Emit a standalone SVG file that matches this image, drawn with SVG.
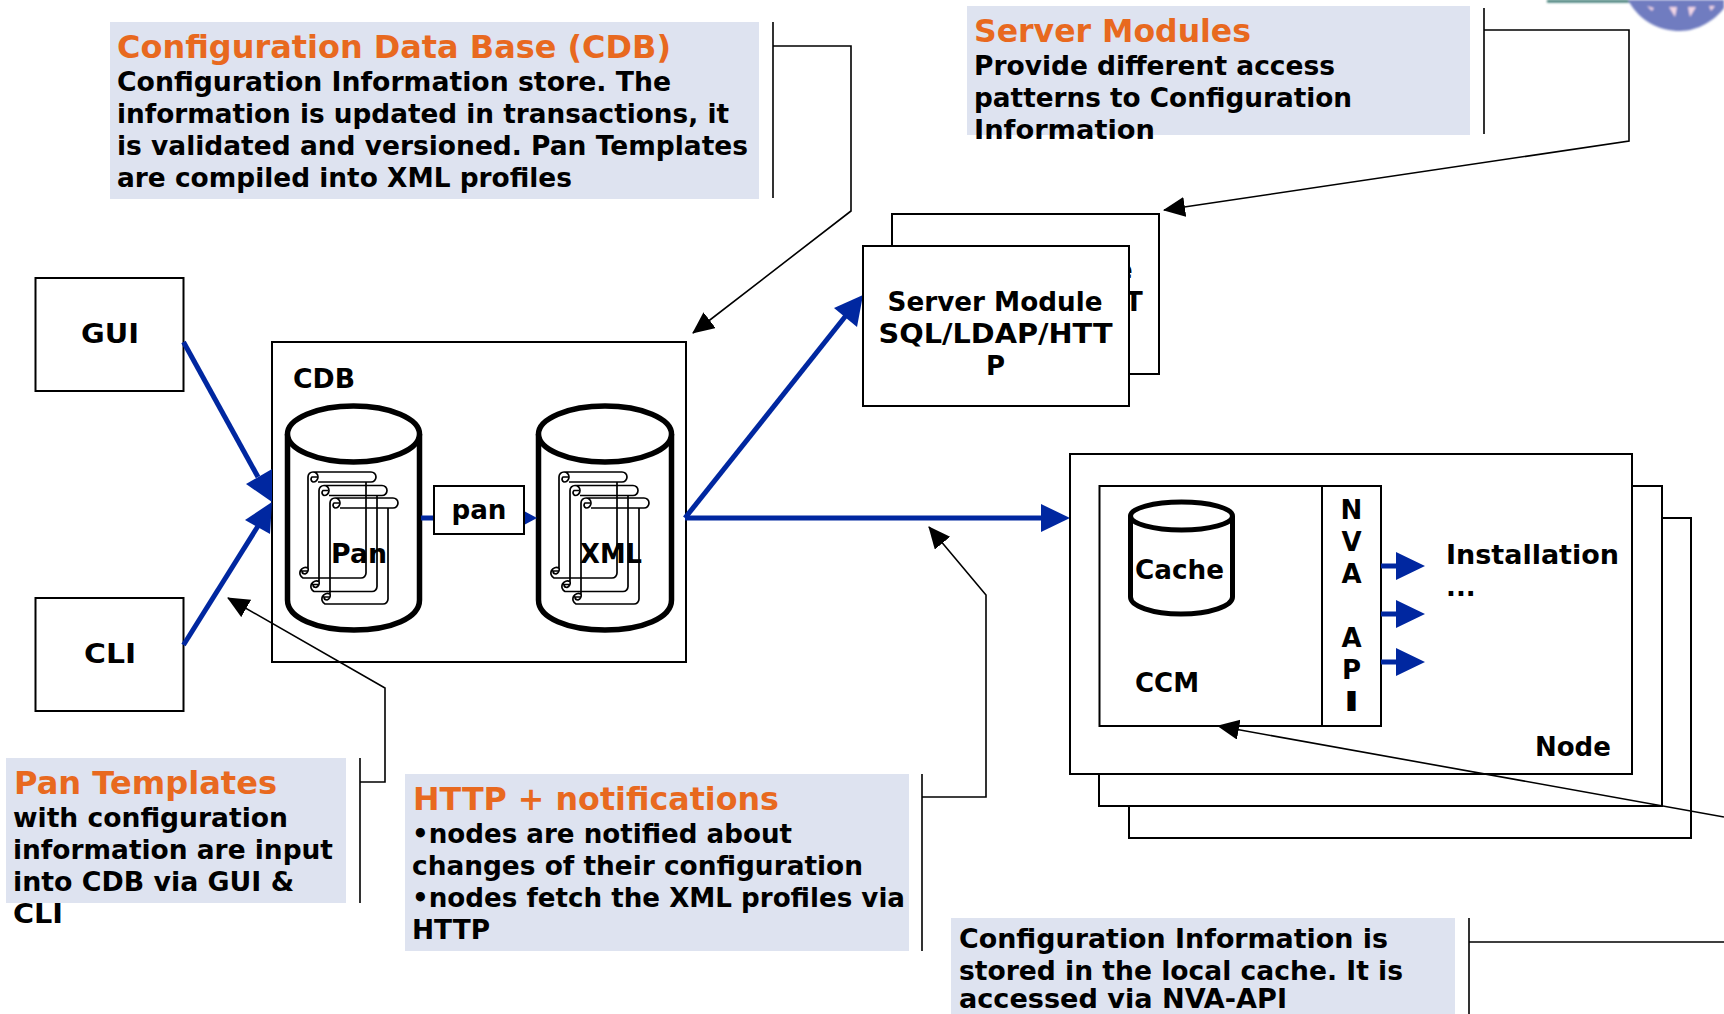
<svg xmlns="http://www.w3.org/2000/svg" xmlns:xlink="http://www.w3.org/1999/xlink" width="1724" height="1014" viewBox="0 0 1724 1014">
<style>
text{font-family:"DejaVu Sans","Verdana",sans-serif;font-weight:bold;font-size:26px;fill:#000}
.h{font-size:32px;fill:#e8691f}
.m{text-anchor:middle}
.call{fill:#dee3f0}
.b{fill:#fff;stroke:#000;stroke-width:2}
.l{fill:none;stroke:#000;stroke-width:1.6}
.blue{fill:none;stroke:#0027a0;stroke-width:5}
.bh{fill:#0027a0}
.cyl{fill:#fff;stroke:#000;stroke-width:5.5}
.s{fill:none;stroke:#000;stroke-width:1.7}
</style>
<defs>
<marker id="ah" markerUnits="userSpaceOnUse" markerWidth="24" markerHeight="22" refX="21" refY="10" orient="auto"><path d="M0,0L22,10L0,20z" fill="#000"/></marker>
<filter id="soft"><feGaussianBlur stdDeviation="0.8"/></filter>
<g id="scroll"><path class="s" d="M308,568V477a5,5 0 0 1 5-5H371a5,5 0 0 1 0,10H318M313,472a5,5 0 0 1 5,5a5,5 0 0 1-5,5a3,3 0 0 1-1-5h5M366,482V573a5,5 0 0 1-5,5H303a5,5 0 1 1 5-10a5,5 0 0 1-3,6a3,3 0 0 1-3-3h6"/></g>
<g id="scrolls"><use xlink:href="#scroll"/><use xlink:href="#scroll" x="11" y="13.5"/><use xlink:href="#scroll" x="22" y="26"/></g>
</defs>
<g id="logo" filter="url(#soft)"><rect x="1547" y="0" width="85" height="2.500" fill="#2f6f68"/><path d="M1628,0C1640,22 1660,31 1680,31C1698,31 1715,20 1724,8V0z" fill="#6f7cc0"/><path d="M1647,6L1654,8L1652,11zM1669,7H1677L1675,17zM1688,7H1696L1690,17zM1709,6H1715L1711,11z" fill="#f2d6e6"/></g>
<g id="callout-cdb"><rect class="call" x="110" y="22" width="649" height="177"/>
<text class="h" x="117" y="58" textLength="554" lengthAdjust="spacingAndGlyphs">Configuration Data Base (CDB)</text>
<text x="117" y="91" textLength="554" lengthAdjust="spacingAndGlyphs">Configuration Information store. The</text>
<text x="117" y="123" textLength="612" lengthAdjust="spacingAndGlyphs">information is updated in transactions, it</text>
<text x="117" y="155" textLength="631" lengthAdjust="spacingAndGlyphs">is validated and versioned. Pan Templates</text>
<text x="117" y="187" textLength="455" lengthAdjust="spacingAndGlyphs">are compiled into XML profiles</text></g>
<g id="callout-server"><rect class="call" x="967" y="6" width="503" height="129"/>
<text class="h" x="974" y="42" textLength="277" lengthAdjust="spacingAndGlyphs">Server Modules</text>
<text x="974" y="75" textLength="361" lengthAdjust="spacingAndGlyphs">Provide different access</text>
<text x="974" y="107" textLength="378" lengthAdjust="spacingAndGlyphs">patterns to Configuration</text>
<text x="974" y="139" textLength="181" lengthAdjust="spacingAndGlyphs">Information</text></g>
<g id="callout-pan"><rect class="call" x="6" y="758" width="340" height="145"/>
<text class="h" x="14" y="794" textLength="263" lengthAdjust="spacingAndGlyphs">Pan Templates</text>
<text x="13" y="827" textLength="275" lengthAdjust="spacingAndGlyphs">with configuration</text>
<text x="13" y="859" textLength="320" lengthAdjust="spacingAndGlyphs">information are input</text>
<text x="13" y="891" textLength="281" lengthAdjust="spacingAndGlyphs">into CDB via GUI &amp;</text>
<text x="13" y="923" textLength="50" lengthAdjust="spacingAndGlyphs">CLI</text></g>
<g id="callout-http"><rect class="call" x="405" y="774" width="504" height="177"/>
<text class="h" x="413" y="810" textLength="366" lengthAdjust="spacingAndGlyphs">HTTP + notifications</text>
<text x="412" y="843" textLength="380" lengthAdjust="spacingAndGlyphs">•nodes are notified about</text>
<text x="412" y="875" textLength="451" lengthAdjust="spacingAndGlyphs">changes of their configuration</text>
<text x="412" y="907" textLength="493" lengthAdjust="spacingAndGlyphs">•nodes fetch the XML profiles via</text>
<text x="412" y="939" textLength="78" lengthAdjust="spacingAndGlyphs">HTTP</text></g>
<g id="callout-cache"><rect class="call" x="951" y="918" width="504" height="96"/>
<text x="959" y="948" textLength="429" lengthAdjust="spacingAndGlyphs">Configuration Information is</text>
<text x="959" y="980" textLength="444" lengthAdjust="spacingAndGlyphs">stored in the local cache. It is</text>
<text x="959" y="1008" textLength="328" lengthAdjust="spacingAndGlyphs">accessed via NVA-API</text></g>
<g id="gui"><rect class="b" x="35.500" y="278" width="148" height="113"/><text class="m" x="110" y="343" textLength="58" lengthAdjust="spacingAndGlyphs">GUI</text></g>
<g id="cli"><rect class="b" x="35.500" y="598" width="148" height="113"/><text class="m" x="110" y="663" textLength="52" lengthAdjust="spacingAndGlyphs">CLI</text></g>
<g id="cdb"><rect class="b" x="272" y="342" width="414" height="320"/>
<text x="293" y="388" textLength="62" lengthAdjust="spacingAndGlyphs">CDB</text>
<g id="pan-db"><path class="cyl" d="M287.500,434V600C287.500,618 317,630 354,630C391,630 419.500,618 419.500,600V434"/><ellipse class="cyl" cx="353.500" cy="434" rx="66" ry="28"/>
<use xlink:href="#scrolls"/><text x="331" y="563" textLength="56" lengthAdjust="spacingAndGlyphs">Pan</text></g>
<g id="xml-db"><path class="cyl" d="M538.500,434V600C538.500,618 568,630 605,630C642,630 671.500,618 671.500,600V434"/><ellipse class="cyl" cx="605" cy="434" rx="66.500" ry="28"/>
<use xlink:href="#scrolls" x="251"/><text x="580" y="563" textLength="62" lengthAdjust="spacingAndGlyphs">XML</text></g>
<line class="blue" x1="421" y1="518" x2="434" y2="518"/><path class="bh" d="M524,511L537,518L524,525z"/>
<g id="pan"><rect class="b" x="434" y="486" width="90" height="48"/><text class="m" x="479" y="519" textLength="55" lengthAdjust="spacingAndGlyphs">pan</text></g></g>
<g id="connectors">
<path class="l" d="M773,22V198M773,46H851V211L693,333" marker-end="url(#ah)"/>
<path class="l" d="M1484,8V134M1484,30H1629V141L1164,210" marker-end="url(#ah)"/>
<path class="l" d="M360,758V903M360,782H385V688L228,598" marker-end="url(#ah)"/>
<path class="l" d="M922,774V951M922,797H986V595L929,527" marker-end="url(#ah)"/>
<path class="l" d="M1469,918V1014M1469,942H1724"/>
</g>
<g id="blue-connectors">
<line class="blue" x1="183.500" y1="342" x2="258" y2="477"/><path class="bh" d="M272,502L246,484L272,469z"/>
<line class="blue" x1="183.500" y1="645" x2="258" y2="526"/><path class="bh" d="M272,502L245,520L270,534z"/>
<line class="blue" x1="685" y1="518" x2="1045" y2="518"/><path class="bh" d="M1070,518L1041,504V532z"/>
<line class="blue" x1="685" y1="518" x2="848" y2="313"/><path class="bh" d="M863,295L834,308L857,327z"/></g>
<g id="server-back"><rect class="b" x="892" y="214" width="267" height="160"/><text x="1115" y="279">e</text><text x="1125" y="311">T</text></g>
<g id="server-front"><rect class="b" x="863" y="246" width="266" height="160"/>
<text class="m" x="995" y="311" textLength="215" lengthAdjust="spacingAndGlyphs">Server Module</text><text class="m" x="995.500" y="343" textLength="234" lengthAdjust="spacingAndGlyphs">SQL/LDAP/HTT</text><text class="m" x="995.500" y="375">P</text></g>
<g id="node-back"><rect class="b" x="1129" y="518" width="562" height="320"/></g>
<g id="node-mid"><rect class="b" x="1099" y="486" width="563" height="320"/></g>
<g id="node"><rect class="b" x="1070" y="454" width="562" height="320"/>
<text x="1535" y="756">Node</text>
<g id="ccm"><rect class="b" x="1099.500" y="486" width="222.500" height="240"/>
<rect class="b" x="1322" y="486" width="59" height="240"/>
<text x="1135" y="692">CCM</text>
<path d="M1130.500,516V597C1130.500,606 1152,614 1181,614C1210,614 1232.500,606 1232.500,597V516" fill="#fff" stroke="#000" stroke-width="5"/><ellipse cx="1181.500" cy="516" rx="51" ry="14" fill="#fff" stroke="#000" stroke-width="5"/>
<text x="1135" y="579" textLength="89" lengthAdjust="spacingAndGlyphs">Cache</text>
<text class="m" x="1351.500" y="519">N</text><text class="m" x="1351.500" y="551">V</text><text class="m" x="1351.500" y="583">A</text><text class="m" x="1351.500" y="647">A</text><text class="m" x="1351.500" y="679">P</text><text class="m" x="1351.500" y="711" textLength="16" lengthAdjust="spacingAndGlyphs">I</text></g>
<text x="1446" y="564" textLength="173" lengthAdjust="spacingAndGlyphs">Installation</text><text x="1446" y="596">...</text>
<g id="api-arrows"><path class="blue" d="M1381,566H1397M1381,614H1397M1381,662H1397"/><path class="bh" d="M1396,552L1425,566L1396,580zM1396,600L1425,614L1396,628zM1396,648L1425,662L1396,676z"/></g></g>
<path class="l" d="M1724,817L1218,726" marker-end="url(#ah)"/>
</svg>
